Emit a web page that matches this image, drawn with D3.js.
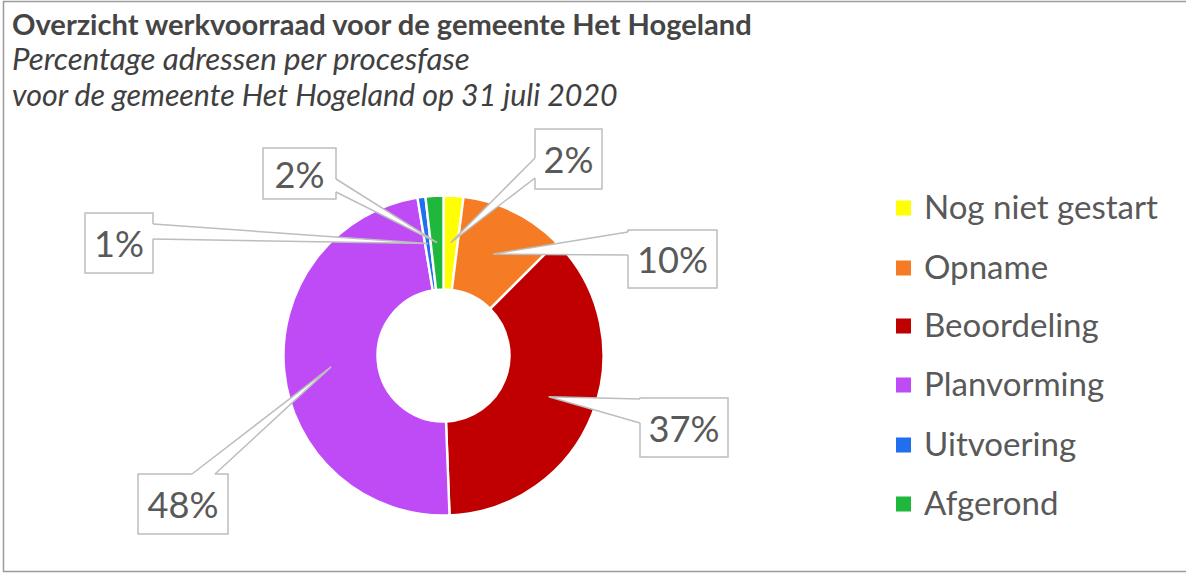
<!DOCTYPE html>
<html><head><meta charset="utf-8">
<script src="https://cdn.jsdelivr.net/npm/d3@7"></script>
<style>body{margin:0;background:#fff}svg{display:block}</style>
</head><body>
<svg id="c" width="1186" height="573"></svg>
<script>
const categories = ["Nog niet gestart","Opname","Beoordeling","Planvorming","Uitvoering","Afgerond"];
const values = [2.0, 10.5, 36.9, 48.0, 0.8, 1.8];
const labelTexts = ["2%","10%","37%","48%","1%","2%"];
const colors = ["#ffff00","#f57b25","#c00000","#bf4bf7","#1f6fee","#1fb83c"];
const title = "Overzicht werkvoorraad voor de gemeente Het Hogeland";
const subtitle1 = "Percentage adressen per procesfase";
const subtitle2 = "voor de gemeente Het Hogeland op 31 juli 2020";

// layout of callout boxes (positions only)
const callouts = [
  {box:[535,129,67,60], base:[[535,158],[535,178]]},
  {box:[628,230,89,58], base:[[628,232],[628,255]]},
  {box:[640,398,88,59], base:[[640,399],[640,423]]},
  {box:[138,474,90,60], base:[[192,474],[215,474]]},
  {box:[85,213,68,60], base:[[153,224],[153,239]]},
  {box:[263,148,73,51], base:[[336,179],[336,192]]}
];

const svg = d3.select("#c");
const FONT = "Lato, 'Open Sans', sans-serif";

function fit(sel, target){
  const fs = parseFloat(sel.attr("font-size"));
  const w = sel.node().getComputedTextLength();
  const nfs = fs*target/w;
  sel.attr("font-size", nfs);
  return nfs;
}

// frame
svg.append("path").attr("d","M1186,1.5 H3.5 V571.5 H1186")
  .attr("fill","none").attr("stroke","#9c9c9c").attr("stroke-width",1.5);

// titles
const t = svg.append("text").attr("x",12).attr("y",35).attr("font-family",FONT)
  .attr("font-weight","bold").attr("font-size",30).attr("fill","#454545").text(title);
fit(t,740);
const s1 = svg.append("text").attr("x",12).attr("y",70).attr("font-family",FONT)
  .attr("font-style","italic").attr("font-size",26).attr("fill","#404040").text(subtitle1);
fit(s1,458);
const s2 = svg.append("text").attr("x",12).attr("y",106).attr("font-family",FONT)
  .attr("font-style","italic").attr("font-size",26).attr("fill","#404040").text(subtitle2);
fit(s2,606);

// donut
const cx = 443.5, cy = 355.5, rOuter = 160, rInner = 66;
const pie = d3.pie().sort(null).value(d=>d)(values);
const arc = d3.arc().innerRadius(rInner).outerRadius(rOuter);
const g = svg.append("g").attr("transform",`translate(${cx},${cy})`);
g.selectAll("path").data(pie).join("path")
  .attr("d",arc).attr("fill",(d,i)=>colors[i])
  .attr("stroke","#fff").attr("stroke-width",2.4);

// callouts
const cg = svg.append("g");
let labelFs = null;
pie.forEach((d,i)=>{
  const c = callouts[i];
  const [bx,by,bw,bh] = c.box;
  const cen = arc.centroid(d);
  const tip = [cx+cen[0], cy+cen[1]];
  cg.append("rect").attr("x",bx).attr("y",by).attr("width",bw).attr("height",bh)
    .attr("fill","#fff").attr("stroke","#bdbdbd").attr("stroke-width",1.5);
  const [b1,b2] = c.base;
  const ix = bx+bw/2, iy = by+bh/2;
  function inward(p){ const dx = ix-p[0], dy = iy-p[1];
    if (b1[0]===b2[0]) return [p[0]+Math.sign(dx)*2, p[1]];
    return [p[0], p[1]+Math.sign(dy)*2]; }
  cg.append("path").attr("d", d3.line()([inward(b1), b1, tip, b2, inward(b2)]) + "Z")
    .attr("fill","#fff").attr("stroke","none");
  cg.append("path").attr("d", d3.line()([b1, tip, b2]))
    .attr("fill","none").attr("stroke","#bdbdbd").attr("stroke-width",1.5);
  const tx = cg.append("text").attr("x",bx+bw/2).attr("y",by+bh/2+14)
    .attr("text-anchor","middle").attr("font-family",FONT)
    .attr("font-size",labelFs||36).attr("fill","#595959").text(labelTexts[i]);
  if (i===3){ labelFs = fit(tx,71); }
});
if (labelFs) cg.selectAll("text").attr("font-size",labelFs);

// legend
const legendY = [208, 268, 326, 385, 445, 504];
const lg = svg.append("g");
let legFs = null;
categories.forEach((name,i)=>{
  lg.append("rect").attr("x",896).attr("y",legendY[i]-7.5).attr("width",15).attr("height",15)
    .attr("fill",colors[i]);
  const tx = lg.append("text").attr("x",924).attr("y",legendY[i]+11)
    .attr("font-family",FONT).attr("font-size",legFs||30).attr("fill","#595959").text(name);
  if (i===0) legFs = fit(tx,234);
});
lg.selectAll("text").attr("font-size",legFs);
</script>
</body></html>
